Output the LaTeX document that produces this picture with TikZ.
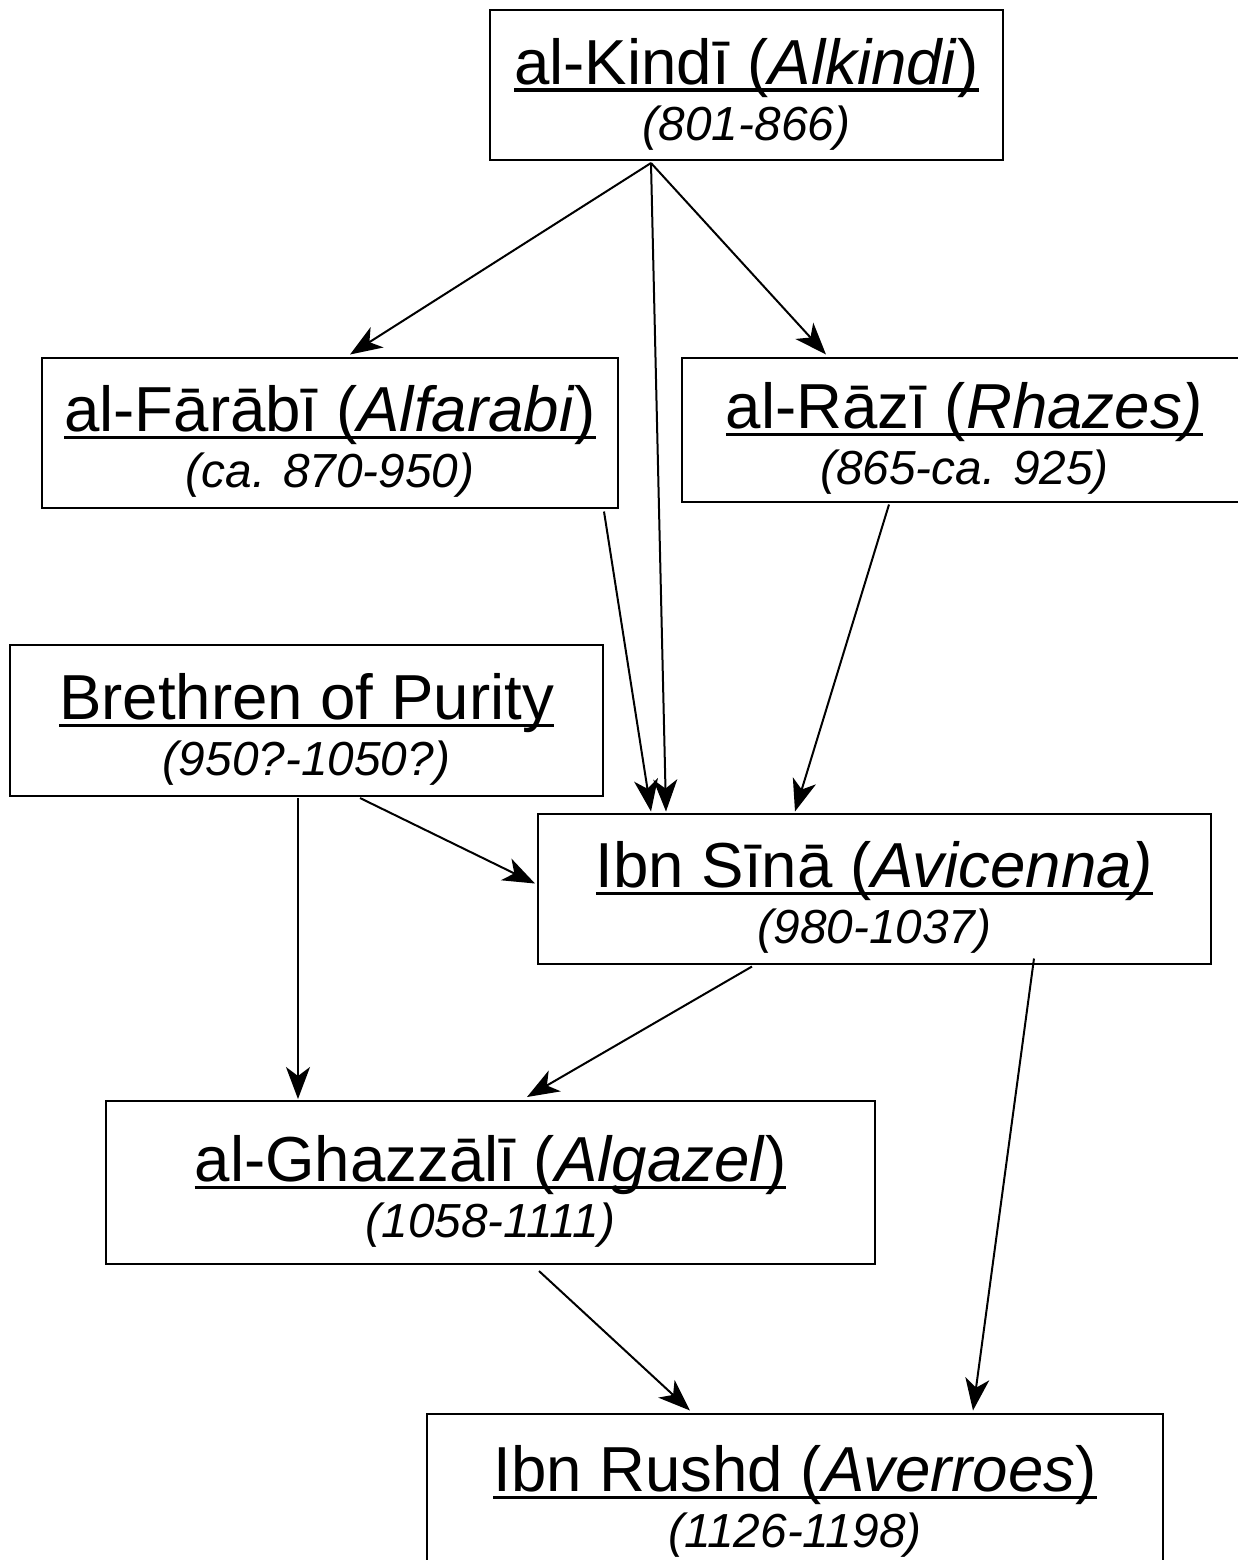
\documentclass[tikz,border=0pt]{standalone}
\usepackage{fontspec}
\setmainfont{Liberation Sans}
\usetikzlibrary{arrows.meta,calc}

% thick underline that runs through the descenders
\newcommand{\undl}[1]{\setbox0\hbox{#1}\rlap{\rule[-3.8pt]{\wd0}{1.8pt}}\box0}
\newcommand{\who}[1]{\undl{\rule{0pt}{32pt}#1}}
\newcommand{\when}[1]{{\fontsize{23.9pt}{28pt}\selectfont\itshape #1}}

\begin{document}
\begin{tikzpicture}[
    x=0.5pt, y=-0.5pt,
    person/.style={draw, line width=1pt, inner sep=0pt, align=center,
        font=\fontsize{31.8pt}{28pt}\selectfont},
    link/.style={-{Stealth[length=16pt, width=12pt, inset=4.5pt]}, line width=1pt}
]
    \useasboundingbox (0,0) rectangle (1238,1560);

    \node[person, minimum width=256.5pt, minimum height=75pt] (kindi) at (746.5,85)
        {\who{al-Kindī (\textit{Alkindi})}\\\when{(801-866)}};
    \node[person, minimum width=288pt, minimum height=75pt] (farabi) at (330,432.5)
        {\who{al-Fārābī (\textit{Alfarabi})}\\\when{(ca. 870-950)}};
    \node[person, minimum width=282.5pt, minimum height=72pt] (razi) at (964.5,429.5)
        {\who{al-Rāzī (\textit{Rhazes)}}\\\when{(865-ca. 925)}};
    \node[person, minimum width=296.5pt, minimum height=75.5pt] (brethren) at (306.5,720.5)
        {\who{Brethren of Purity}\\\when{(950?-1050?)}};
    \node[person, minimum width=336.5pt, minimum height=75pt] (sina) at (874.5,888.5)
        {\who{Ibn Sīnā (\textit{Avicenna)}}\\\when{(980-1037)}};
    \node[person, minimum width=384.5pt, minimum height=81.5pt] (ghazzali) at (490.5,1182.5)
        {\who{al-Ghazzālī (\textit{Algazel})}\\\when{(1058-1111)}};
    \node[person, minimum width=368pt, minimum height=79pt] (rushd) at (795,1492.5)
        {\who{Ibn Rushd (\textit{Averroes})}\\\when{(1126-1198)}};

    \draw[link] ($(kindi.south)+(-95.5,2)$) -- ($(farabi.north)+(20,-2)$);
    \draw[link] ($(kindi.south)+(-95.5,2)$) -- ($(sina.north)+(-208.5,-1)$);
    \draw[link] ($(kindi.south)+(-95.5,2)$) -- ($(razi.north)+(-138.5,-2)$);
    \draw[link] ($(farabi.south)+(274,3)$) -- ($(sina.north)+(-223.5,-1)$);
    \draw[link] ($(razi.south)+(-75.5,2)$) -- ($(sina.north)+(-79.5,-1)$);
    \draw[link] ($(brethren.south)+(-8.5,1)$) -- ($(ghazzali.north)+(-192.5,-1)$);
    \draw[link] ($(brethren.south)+(53.5,1)$) -- ($(sina.west)+(-2,-5)$);
    \draw[link] ($(sina.south)+(-122.5,2)$) -- ($(ghazzali.north)+(36.5,-3)$);
    \draw[link] ($(sina.south)+(159.5,-6)$) -- ($(rushd.north)+(178,-2)$);
    \draw[link] ($(ghazzali.south)+(48.5,6)$) -- ($(rushd.north)+(-105,-2)$);
\end{tikzpicture}
\end{document}
